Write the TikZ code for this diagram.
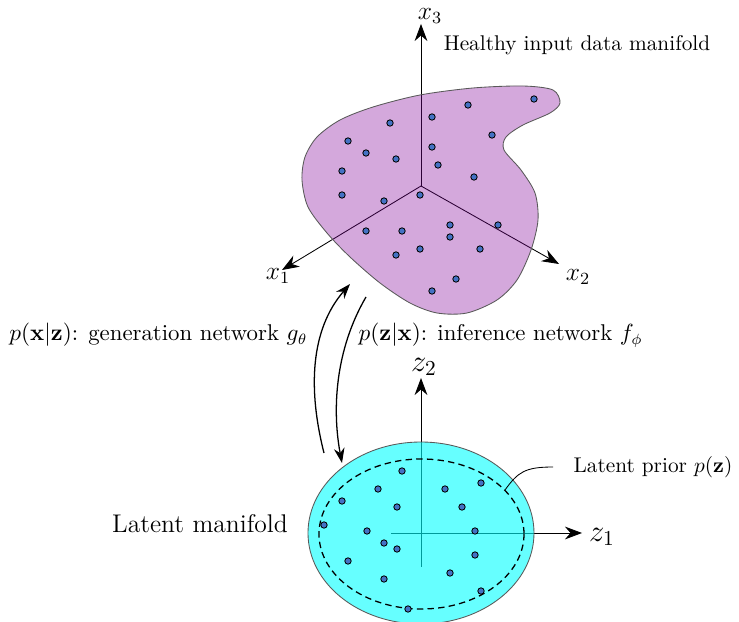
\documentclass[tikz,border=0pt]{standalone}
\usepackage{tikz}
\usetikzlibrary{arrows.meta}

\definecolor{blobpurple}{RGB}{128,0,153}
\definecolor{latcyan}{rgb}{0,1,1}
\definecolor{dotblue}{RGB}{68,114,196}

\begin{document}
\begin{tikzpicture}[x=0.0165cm,y=-0.0165cm,
  dot/.style={circle,draw=black,fill=dotblue,inner sep=0pt,minimum size=3pt,line width=0.4pt},
  axis/.style={thin,-{Stealth[length=8pt,width=6pt]}},
  flow/.style={semithick,-{Stealth[length=7pt,width=5pt]}},
  netlabel/.style={font=\fontsize{10.7}{13}\selectfont}]
\useasboundingbox (0,0) rectangle (739,622);

% Ejes x
\coordinate (o) at (421,186);
\coordinate (x1) at (282,270);
\coordinate (x2) at (559,264);
\coordinate (x3) at (421,24);
\draw[axis] (o) -- (x1);
\draw[axis] (o) -- (x2);
\draw[axis] (o) -- (x3);

% Variedad de datos
\filldraw[draw=gray!70!black,fill=blobpurple,fill opacity=0.34]
  plot[smooth cycle] coordinates {(302,180) (305,157) (317,137) (340,120)
  (373,107) (420,95) (473,88) (523,86) (553,90) (560,103) (550,113)
  (523,125) (506,137) (504,150) (521,170) (535,193) (538,220) (531,250)
  (517,280) (497,300) (467,313) (437,313) (410,303) (380,283) (350,257)
  (327,233) (308,207)};

\foreach \px/\py [count=\i] in {534/99,468/105,432/117,390/123,492/135,
  348/141,432/147,366/153,396/159,438/165,342/171,474/177,342/195,
  420/195,384/201,450/225,498/225,366/231,402/231,450/237,420/249,
  480/249,396/255,456/279,432/291}
  \node[dot] (a\i) at (\px,\py) {};

\node[font=\large] (lx1) at (278,276) {$x_1$};
\node[font=\large] (lx2) at (578,277) {$x_2$};
\node[font=\large] (lx3) at (430,16) {$x_3$};
\node (ltop) at (577,45) {Healthy input data manifold};

% Ejes z
\coordinate (c) at (421,533);
\coordinate (z1s) at (391,533);
\coordinate (z1) at (582,533);
\coordinate (z2s) at (421,567);
\coordinate (z2) at (421,378);
\draw[axis] (z1s) -- (z1);
\draw[axis] (z2s) -- (z2);

% Variedad latente
\filldraw[draw=gray!70!black,fill=latcyan,fill opacity=0.6]
  (c) ellipse [x radius=113, y radius=91];
\draw[semithick,densely dashed] (421.5,534) ellipse [x radius=102.5, y radius=75];

\foreach \px/\py [count=\i] in {402/471,378/489,445/489,481/483,342/501,
  397/507,462/507,324/525,367/531,475/531,384/543,397/549,475/555,
  348/561,450/573,384/579,481/591,408/609}
  \node[dot] (b\i) at (\px,\py) {};

\node[font=\Large] (lz1) at (602,537) {$z_1$};
\node[font=\Large,inner sep=1pt] (lz2) at (424,367) {$z_2$};
\node[font=\large] (llat) at (200,524) {Latent manifold};
\node[anchor=west] (lprior) at (566,467) {Latent prior $p(\mathbf{z})$};
\coordinate (pe) at (505,490);
\draw ([xshift=-6pt]lprior.west) .. controls (525,467) and (518,472) .. (pe);

% Redes
\coordinate (gs) at (324,453);
\coordinate (ge) at (350,284);
\coordinate (is) at (366,297);
\coordinate (ie) at (342,463);
\draw[flow] (gs) .. controls (308,390) and (310,330) .. (ge);
\draw[flow] (is) .. controls (335,350) and (332,410) .. (ie);
\node[netlabel,anchor=east] (lgen) at (315,335) {$p(\mathbf{x}|\mathbf{z})$: generation network $g_\theta$};
\node[netlabel,anchor=west] (linf) at (351,335) {$p(\mathbf{z}|\mathbf{x})$: inference network $f_\phi$};
\end{tikzpicture}
\end{document}
